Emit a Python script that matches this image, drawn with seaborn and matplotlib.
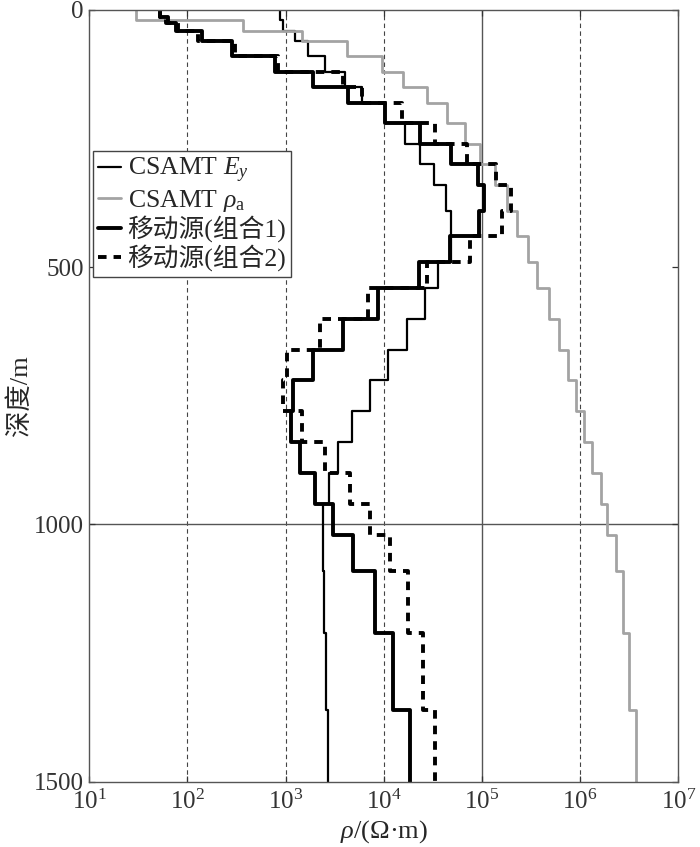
import numpy as np
import pandas as pd
import matplotlib
matplotlib.use("Agg")
import matplotlib.pyplot as plt
import seaborn as sns

# layer tops (m) and resistivity (ohm.m)
ey_top = [0, 20, 40, 60, 90, 120, 150, 180, 220, 260, 300, 340, 390, 490, 540,
          600, 660, 720, 780, 840, 900, 960, 1090, 1210, 1360]
ey_rho = [883, 950, 1260, 1700, 2540, 4050, 6030, 10300, 16500, 23300, 32600,
          43100, 48500, 35700, 26400, 17300, 11100, 7280, 4770, 3430, 2770,
          2400, 2460, 2550, 2700]

pa_top = [0, 20, 40, 60, 90, 120, 150, 180, 220, 260, 300, 340, 390, 440, 490,
          540, 600, 660, 720, 780, 840, 900, 960, 1020, 1090, 1210, 1360]
pa_rho = [30, 372, 1480, 4220, 9570, 15800, 27400, 43800, 67300, 95700, 136000,
          179000, 226000, 291000, 363000, 485000, 608000, 746000, 906000,
          1090000, 1330000, 1620000, 1890000, 2300000, 2710000, 3160000, 3700000]

m1_top = [0, 13, 26, 40, 60, 90, 120, 150, 180, 220, 260, 300, 340, 390, 440,
          490, 540, 600, 660, 720, 780, 840, 900, 960, 1020, 1090, 1210, 1360]
m1_rho = [53, 63, 76, 142, 287, 785, 1910, 4350, 10300, 23400, 48500, 91300,
          105000, 93400, 47300, 22900, 8770, 3860, 1910, 1200, 1140, 1410, 2000,
          3060, 4890, 8190, 12500, 18600]

m2_top = [0, 13, 26, 40, 60, 90, 120, 150, 180, 220, 260, 300, 340, 390, 440,
          490, 540, 600, 660, 720, 780, 840, 900, 960, 1020, 1090, 1210, 1360]
m2_rho = [53, 60, 81, 129, 308, 843, 3860, 6030, 15400, 33400, 70600, 139000,
          198000, 161000, 76400, 27700, 6950, 2250, 1040, 948, 1480, 2530, 4550,
          7280, 11600, 17700, 25200, 33400]

max_depth = 1500
labels = ["CSAMT $E_y$", r"CSAMT $\rho_{\mathrm{a}}$", "移动源(组合1)", "移动源(组合2)"]


def steps(tops, rho, name):
    # turn layer tops + values into a step profile
    bottoms = tops[1:] + [max_depth]
    depth = np.column_stack([tops, bottoms]).ravel()
    return pd.DataFrame({"rho": np.repeat(rho, 2), "depth": depth, "curve": name})


sns.set_style("ticks")
plt.rcParams["font.family"] = ["Liberation Serif", "Noto Sans CJK SC"]
plt.rcParams["mathtext.fontset"] = "custom"
plt.rcParams["mathtext.rm"] = "Liberation Serif"
plt.rcParams["mathtext.it"] = "Liberation Serif:italic"

fig = plt.figure(figsize=(7, 8.47), dpi=100)
ax = fig.add_axes([0.1276, 0.0771, 0.8414, 0.9111])

ax.set_xscale("log")
ax.set_xlim(10, 1e7)
ax.set_ylim(max_depth, 0)

# grid: dashed decades, solid at 1e5 and 1000 m
for xv in [1e2, 1e3, 1e4, 1e6]:
    ax.axvline(xv, color="#444444", lw=0.8, ls=(0, (4, 3)), zorder=0)
ax.axvline(1e5, color="#555555", lw=1.0, zorder=0)
ax.axhline(1000, color="#555555", lw=1.0, zorder=0)

sns.lineplot(data=steps(ey_top, ey_rho, labels[0]), x="rho", y="depth",
             sort=False, estimator=None, color="black", lw=1.6, label=labels[0], ax=ax)
sns.lineplot(data=steps(pa_top, pa_rho, labels[1]), x="rho", y="depth",
             sort=False, estimator=None, color="#a3a3a3", lw=2.0, label=labels[1], ax=ax)
sns.lineplot(data=steps(m1_top, m1_rho, labels[2]), x="rho", y="depth",
             sort=False, estimator=None, color="black", lw=2.8, label=labels[2], ax=ax)
sns.lineplot(data=steps(m2_top, m2_rho, labels[3]), x="rho", y="depth",
             sort=False, estimator=None, color="black", lw=2.8, ls=(0, (2.2, 1.8)),
             label=labels[3], ax=ax)

ax.set_yticks([0, 500, 1000, 1500])
ax.set_xticks([1e1, 1e2, 1e3, 1e4, 1e5, 1e6, 1e7])
ax.minorticks_off()
ax.tick_params(direction="in", length=4, width=0.9, colors="#333333",
               labelsize=18, top=True, right=True)
ax.tick_params(axis="x", pad=6)
ax.tick_params(axis="y", pad=4)
for s in ax.spines.values():
    s.set_color("#555555")
    s.set_linewidth(1.0)

ax.set_xlabel(r"$\it{\rho}$/(Ω·m)", fontsize=19)
ax.xaxis.set_label_coords(0.5, -0.047)
ax.set_ylabel("深度/m", fontsize=19)
ax.yaxis.set_label_coords(-0.098, 0.5)

leg = ax.legend(loc="upper left", bbox_to_anchor=(0.006, 0.817), borderaxespad=0,
                fontsize=18.5, handlelength=0.9, handletextpad=0.25, labelspacing=0.08,
                borderpad=0.2, fancybox=False, framealpha=1, edgecolor="#444444")
leg.get_frame().set_linewidth(1.0)

fig.savefig("out.png", dpi=100)
